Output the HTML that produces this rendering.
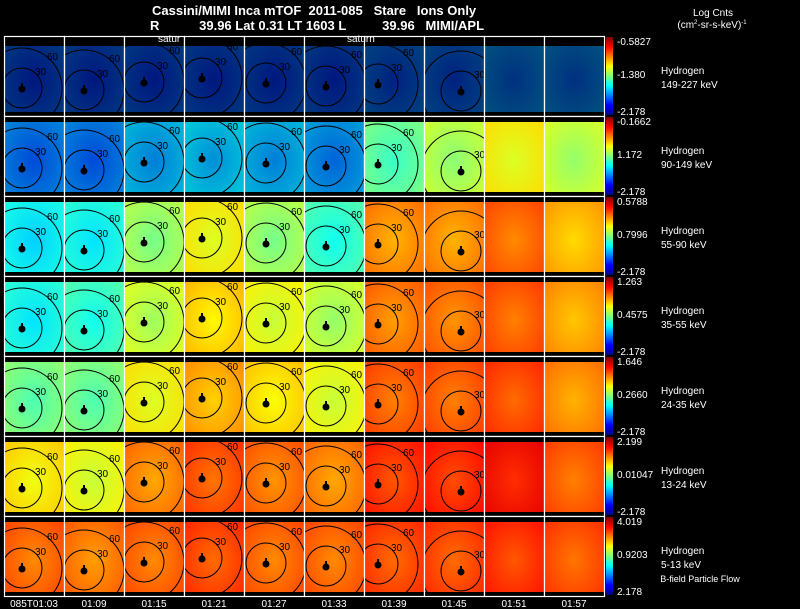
<!DOCTYPE html>
<html><head><meta charset="utf-8">
<style>
html,body{margin:0;padding:0;background:#000;}
body{width:800px;height:609px;overflow:hidden;position:relative;font-family:"Liberation Sans",sans-serif;}
svg{position:absolute;left:0;top:0;}
text{font-family:"Liberation Sans",sans-serif;fill:#fff;}
</style></head>
<body>
<svg id="chart" width="800" height="609" viewBox="0 0 800 609" xmlns="http://www.w3.org/2000/svg">
<text x="152" y="15" font-size="13" font-weight="bold" xml:space="preserve">Cassini/MIMI Inca mTOF  2011-085   Stare   Ions Only</text>
<text x="150" y="30" font-size="13" font-weight="bold" xml:space="preserve">R           39.96 Lat 0.31 LT 1603 L          39.96   MIMI/APL</text>
<text x="713" y="16" font-size="10" text-anchor="middle">Log Cnts</text>
<text x="712" y="28" font-size="10" text-anchor="middle">(cm<tspan font-size="6" dy="-4">2</tspan><tspan dy="4">-sr-s-keV)</tspan><tspan font-size="6" dy="-4">-1</tspan></text>
<text x="700" y="582" font-size="9" text-anchor="middle">B-field Particle Flow</text>
<g id="panels"></g>
<g id="labels"></g>
</svg>
<script>
const rowNames = ["149-227 keV","90-149 keV","55-90 keV","35-55 keV","24-35 keV","13-24 keV","5-13 keV"];
const cbTop = ["-0.5827","-0.1662","0.5788","1.263","1.646","2.199","4.019"];
const cbMid = ["-1.380","1.172","0.7996","0.4575","0.2660","0.01047","0.9203"];
const cbBot = ["-2.178","-2.178","-2.178","-2.178","-2.178","-2.178","2.178"];
const times = ["085T01:03","01:09","01:15","01:21","01:27","01:33","01:39","01:45","01:51","01:57"];
// normalized panel levels (0=blue .. 1=red) per row, per column
const level0 = [0.20,0.20,0.20,0.20,0.20,0.20,0.22,0.22,0.25,0.25];
const level1 = [0.24,0.24,0.30,0.32,0.30,0.27,0.46,0.54,0.62,0.55];
const level2 = [0.36,0.38,0.52,0.62,0.52,0.42,0.73,0.73,0.77,0.69];
const level3 = [0.38,0.42,0.56,0.66,0.60,0.55,0.75,0.76,0.78,0.71];
const level4 = [0.48,0.48,0.62,0.70,0.65,0.60,0.78,0.78,0.80,0.73];
const level5 = [0.64,0.60,0.74,0.79,0.76,0.74,0.82,0.83,0.86,0.78];
const level6 = [0.77,0.75,0.77,0.80,0.77,0.77,0.80,0.80,0.82,0.79];
const levels = [level0,level1,level2,level3,level4,level5,level6];
// planet (circle center) position within panel per column, columns 0..7
const ctrX = [18,20,20,18,22,22,14,37];
const ctrY = [52,54,46,42,47,50,48,55];

const NS="http://www.w3.org/2000/svg";
const X0=4, Y0=36, PW=60, PH=80;
function px(c){return X0+c*PW;}
function py(r){return Y0+r*PH;}
function jet(v){
  v=Math.max(0,Math.min(1,v));
  const r=Math.max(0,Math.min(1,1.5-Math.abs(4*v-3)));
  const g=Math.max(0,Math.min(1,1.5-Math.abs(4*v-2)));
  const b=Math.max(0,Math.min(1,1.5-Math.abs(4*v-1)));
  return `rgb(${Math.round(r*255)},${Math.round(g*255)},${Math.round(b*255)})`;
}
function mk(tag,attrs,parent){const e=document.createElementNS(NS,tag);for(const k in attrs)e.setAttribute(k,attrs[k]);parent.appendChild(e);return e;}
const G=document.getElementById('panels');
const L=document.getElementById('labels');
const defs=mk('defs',{},G);
const cg=mk('linearGradient',{id:'cbgrad',x1:0,y1:1,x2:0,y2:0},defs);
for(let i=0;i<=8;i++){mk('stop',{offset:i/8,'stop-color':jet(i/8)},cg);}

for(let r=0;r<7;r++){
  for(let c=0;c<10;c++){
    const v=levels[r][c];
    const x=px(c), y=py(r);
    const gid='g'+r+'_'+c;
    const rg=mk('radialGradient',{id:gid,cx:0.5,cy:0.55,r:0.7},defs);
    mk('stop',{offset:0,'stop-color':jet(v-0.03)},rg);
    mk('stop',{offset:1,'stop-color':jet(v+0.04)},rg);
    const p=mk('rect',{x:x,y:y,width:PW,height:PH,fill:'url(#'+gid+')',opacity:r===0?0.5:(r===1&&c<6?0.85:1)},G);
    
    
    const t=mk('rect',{x:x,y:y,width:PW,height:r===0?10:6,fill:'#000'},G);
    
    
    const b=mk('rect',{x:x,y:y+PH-4,width:PW,height:4,fill:'#000'},G);
    
    
    if(c<8){
      const cx=x+ctrX[c], cy=y+ctrY[c];
      const cl=mk('g',{'clip-path':'url(#clip'+r+'_'+c+')'},G);
      const cp=mk('clipPath',{id:'clip'+r+'_'+c},defs);
      mk('rect',{x:x,y:y,width:PW,height:PH},cp);
      const c1=mk('circle',{cx:cx,cy:cy,r:20,fill:'none',stroke:'#000','stroke-width':1},cl);
      
      
      const c2=mk('circle',{cx:cx,cy:cy,r:40,fill:'none',stroke:'#000','stroke-width':1},cl);
      
      
      const s=mk('circle',{cx:cx,cy:cy+1,r:3.5,fill:'#000'},cl);
      
      
      mk('rect',{x:cx-1,y:cy-5,width:2,height:4,fill:'#000'},cl);
      const t30=mk('text',{x:cx+13,y:cy-13,'font-size':10,style:'fill:#000'},cl);
      t30.textContent='30';
      
      
      const t60=mk('text',{x:cx+25,y:cy-28,'font-size':10,style:'fill:#000'},cl);
      t60.textContent='60';
      
      
    }
    const fr=mk('rect',{x:x+0.5,y:y+0.5,width:PW,height:PH,fill:'none',stroke:'#fff','stroke-width':1.2},G);
    
    
  }
  const y=py(r);
  const cb=mk('rect',{x:606,y:y+1,width:7,height:PH-2,fill:'url(#cbgrad)'},G);
  
  
  const t1=mk('text',{x:617,y:y+9,'font-size':10},L);t1.textContent=cbTop[r];
  
  
  const t2=mk('text',{x:617,y:y+42,'font-size':10},L);t2.textContent=cbMid[r];
  
  
  const t3=mk('text',{x:617,y:y+79,'font-size':10},L);t3.textContent=cbBot[r];
  
  
  const h=mk('text',{x:661,y:y+38,'font-size':10},L);h.textContent='Hydrogen';
  
  
  const e=mk('text',{x:661,y:y+52,'font-size':10},L);e.textContent=rowNames[r];
  
  
}
for(let c=0;c<10;c++){
  const t=mk('text',{x:px(c)+30,y:607,'font-size':10,'text-anchor':'middle'},L);
  t.textContent=times[c];
  
  
}
const s1=mk('text',{x:158,y:42,'font-size':10,style:'fill:#fff'},L);s1.textContent='satur';


const s2=mk('text',{x:347,y:42,'font-size':10,style:'fill:#fff'},L);s2.textContent='saturn';


</script>
</body></html>
